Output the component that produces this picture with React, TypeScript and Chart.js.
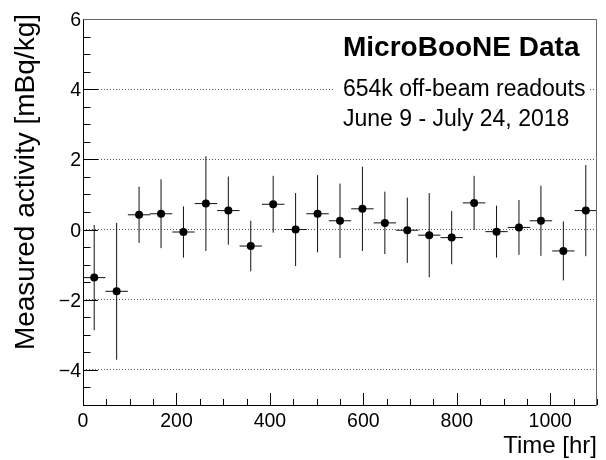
import React, { useEffect, useRef } from "react";
import { Chart, registerables } from "chart.js";

Chart.register(...registerables);

// ---- data ----
const binCenters = [24, 72, 120, 167, 215, 263, 311, 359, 407, 455, 502, 550, 598, 646, 694, 741, 789, 837, 885, 933, 980, 1028, 1076];
const binHalfWidths = [24, 24, 24, 24, 24, 24, 24, 24, 24, 24, 24, 24, 24, 24, 24, 24, 24, 24, 24, 24, 24, 24, 24];
const activity = [-1.37, -1.76, 0.42, 0.45, -0.07, 0.74, 0.54, -0.47, 0.72, 0.0, 0.45, 0.25, 0.59, 0.19, -0.02, -0.16, -0.23, 0.76, -0.06, 0.06, 0.25, -0.61, 0.54];
const activityErr = [1.5, 1.95, 0.8, 0.98, 0.73, 1.35, 0.97, 0.72, 0.81, 1.04, 1.1, 1.06, 1.2, 0.89, 0.93, 1.2, 0.76, 0.77, 0.74, 0.78, 1.0, 0.84, 1.3];

const xTickValues = [0, 200, 400, 600, 800, 1000];
const yTickValues = [-4, -2, 0, 2, 4, 6];
const xTitle = "Time [hr]";
const yTitle = "Measured activity [mBq/kg]";
const annotationTitle = "MicroBooNE Data";
const annotationLines = ["654k off-beam readouts", "June 9 - July 24, 2018"];

const FONT = "'Liberation Sans', Arial, Helvetica, sans-serif";

const fmt = (v: number) => (v < 0 ? "\u2212" + Math.abs(v) : String(v));

function drawText(
  ctx: CanvasRenderingContext2D,
  text: string,
  x: number,
  y: number,
  font: string,
  align: CanvasTextAlign,
  rotate = false
) {
  ctx.save();
  ctx.translate(x, y);
  if (rotate) ctx.rotate(-Math.PI / 2);
  ctx.font = font;
  ctx.fillStyle = "#000";
  ctx.textAlign = align;
  ctx.textBaseline = "alphabetic";
  ctx.fillText(text, 0, 0);
  ctx.restore();
}

const errorBarPlugin = {
  id: "errorBars",
  beforeDatasetsDraw(chart: any) {
    const { ctx, chartArea, scales } = chart;
    const x = scales.x;
    const y = scales.y;
    ctx.save();
    // white text box (covers grid lines behind the label, ROOT pave style)
    ctx.fillStyle = "#fff";
    ctx.fillRect(334, 24, 256, 110);
    ctx.beginPath();
    ctx.rect(chartArea.left, chartArea.top, chartArea.right - chartArea.left, chartArea.bottom - chartArea.top);
    ctx.clip();
    ctx.strokeStyle = "#111";
    ctx.lineWidth = 1;
    for (let i = 0; i < activity.length; i++) {
      const px = x.getPixelForValue(binCenters[i]);
      const py = y.getPixelForValue(activity[i]);
      ctx.beginPath();
      ctx.moveTo(px, y.getPixelForValue(activity[i] - activityErr[i]));
      ctx.lineTo(px, y.getPixelForValue(activity[i] + activityErr[i]));
      ctx.moveTo(x.getPixelForValue(binCenters[i] - binHalfWidths[i]), py);
      ctx.lineTo(x.getPixelForValue(binCenters[i] + binHalfWidths[i]), py);
      ctx.stroke();
    }
    ctx.restore();
  },
};

const framePlugin = {
  id: "rootFrame",
  afterDatasetsDraw(chart: any) {
    const { ctx, chartArea, scales } = chart;
    const x = scales.x;
    const y = scales.y;
    const { left, right, top, bottom } = chartArea;
    ctx.save();
    ctx.strokeStyle = "#000";
    ctx.lineWidth = 1;
    // inward ticks on y axis
    ctx.beginPath();
    for (let v = y.min; v <= y.max + 1e-9; v += 0.5) {
      const py = Math.round(y.getPixelForValue(v)) + 0.5;
      const major = yTickValues.includes(v);
      ctx.moveTo(left, py);
      ctx.lineTo(left + (major ? 15 : 7.5), py);
    }
    // inward ticks on x axis
    for (let v = x.min; v <= x.max + 1e-9; v += 50) {
      const px = Math.round(x.getPixelForValue(v)) + 0.5;
      const major = v % 200 === 0;
      ctx.moveTo(px, bottom);
      ctx.lineTo(px, bottom - (major ? 12 : 6));
    }
    ctx.stroke();
    // frame
    ctx.beginPath();
    ctx.moveTo(Math.round(left) + 0.5, Math.round(top) + 0.5);
    ctx.lineTo(Math.round(left) + 0.5, Math.round(bottom) + 0.5);
    ctx.lineTo(Math.round(right) - 0.5, Math.round(bottom) + 0.5);
    ctx.stroke();
    ctx.strokeStyle = "#666";
    ctx.beginPath();
    ctx.moveTo(Math.round(left) + 0.5, Math.round(top) + 0.5);
    ctx.lineTo(Math.round(right) - 0.5, Math.round(top) + 0.5);
    ctx.lineTo(Math.round(right) - 0.5, Math.round(bottom) + 0.5);
    ctx.stroke();
    ctx.restore();
  },
  afterDraw(chart: any) {
    const { ctx, chartArea, scales } = chart;
    const x = scales.x;
    const y = scales.y;
    // tick labels
    for (const t of x.ticks) {
      drawText(ctx, fmt(t.value), x.getPixelForValue(t.value), chartArea.bottom + 22, `19.5px ${FONT}`, "center");
    }
    for (const t of y.ticks) {
      drawText(ctx, fmt(t.value), chartArea.left - 2, y.getPixelForValue(t.value) + 7, `19.5px ${FONT}`, "right");
    }
    // axis titles (aligned to axis end, ROOT style)
    drawText(ctx, xTitle, chartArea.right, 453, `24px ${FONT}`, "right");
    drawText(ctx, yTitle, 33.5, 14, `28px ${FONT}`, "right", true);
    // annotation
    drawText(ctx, annotationTitle, 343, 56, `bold 28px ${FONT}`, "left");
    drawText(ctx, annotationLines[0], 343, 96, `23px ${FONT}`, "left");
    drawText(ctx, annotationLines[1], 343, 126, `23px ${FONT}`, "left");
  },
};

export default function App() {
  const canvasRef = useRef<HTMLCanvasElement | null>(null);

  useEffect(() => {
    const canvas = canvasRef.current;
    if (!canvas) return;
    const chart = new Chart(canvas, {
      type: "scatter",
      data: {
        datasets: [
          {
            label: "MicroBooNE Data",
            data: binCenters.map((t, i) => ({ x: t, y: activity[i] })),
            backgroundColor: "#000",
            borderColor: "#000",
            pointRadius: 4,
            pointHoverRadius: 4,
            borderWidth: 0,
            showLine: false,
          },
        ],
      },
      options: {
        responsive: false,
        animation: false,
        devicePixelRatio: 1,
        layout: { padding: { top: 19, right: 9, left: 0, bottom: 0 } },
        plugins: {
          legend: { display: false },
          tooltip: { enabled: false },
        },
        scales: {
          x: {
            type: "linear",
            min: 0,
            max: 1100,
            afterFit: (s: any) => {
              s.height = 55;
            },
            afterBuildTicks: (s: any) => {
              s.ticks = xTickValues.map((v) => ({ value: v }));
            },
            grid: { display: false, drawTicks: false },
            border: { display: false },
            ticks: { display: false },
            title: { display: false, text: xTitle },
          },
          y: {
            type: "linear",
            min: -5,
            max: 6,
            afterFit: (s: any) => {
              s.width = 83;
            },
            afterBuildTicks: (s: any) => {
              s.ticks = yTickValues.map((v) => ({ value: v }));
            },
            grid: {
              drawTicks: false,
              color: (c: any) => (c.tick && c.tick.value === 6 ? "rgba(0,0,0,0)" : "#555"),
              lineWidth: 1,
            },
            border: { display: false, dash: [1, 2] },
            ticks: { display: false },
            title: { display: false, text: yTitle },
          },
        },
      },
      plugins: [errorBarPlugin, framePlugin],
    } as any);
    return () => chart.destroy();
  }, []);

  return (
    <div style={{ position: "fixed", left: 0, top: 0, width: 606, height: 460, background: "#fff" }}>
      <canvas ref={canvasRef} width={606} height={460} style={{ display: "block" }} />
    </div>
  );
}
